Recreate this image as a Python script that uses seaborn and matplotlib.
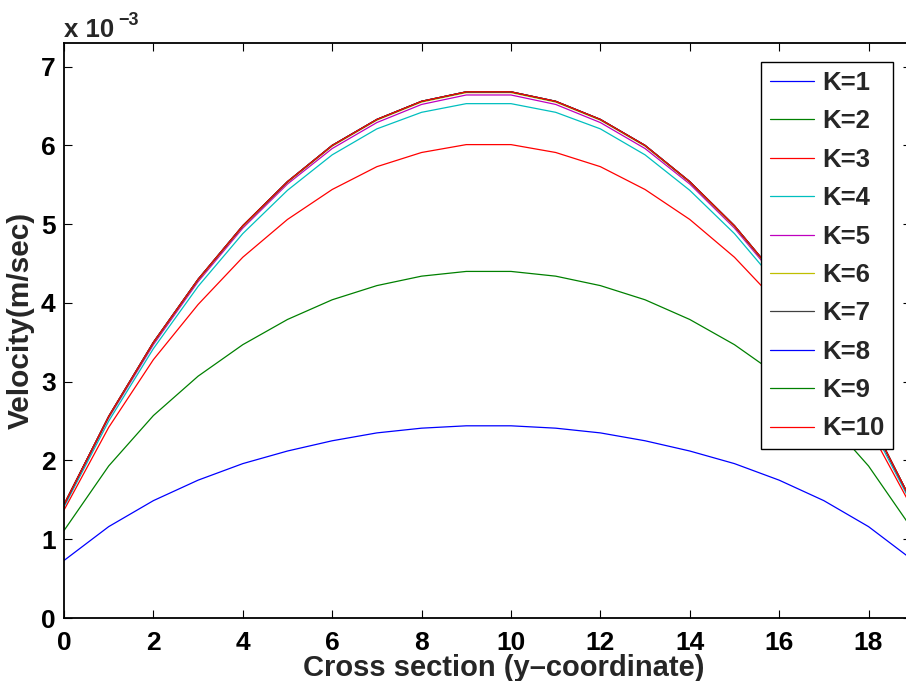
import numpy as np
import pandas as pd
import matplotlib
matplotlib.use('Agg')
import matplotlib.pyplot as plt
import seaborn as sns

# Posiciones en la seccion transversal
y_coord = list(range(20))

# Velocidades (x 10^-3 m/s)
k1 = [0.73, 1.16, 1.49, 1.75, 1.96, 2.12, 2.25, 2.35, 2.41, 2.44,
      2.44, 2.41, 2.35, 2.25, 2.12, 1.96, 1.75, 1.49, 1.16, 0.73]
k2 = [1.11, 1.93, 2.57, 3.07, 3.47, 3.79, 4.04, 4.22, 4.34, 4.40,
      4.40, 4.34, 4.22, 4.04, 3.79, 3.47, 3.07, 2.57, 1.93, 1.11]
k3 = [1.37, 2.42, 3.28, 3.98, 4.58, 5.06, 5.44, 5.73, 5.91, 6.01,
      6.01, 5.91, 5.73, 5.44, 5.06, 4.58, 3.98, 3.28, 2.42, 1.37]
k4 = [1.41, 2.50, 3.42, 4.21, 4.88, 5.43, 5.88, 6.21, 6.42, 6.53,
      6.53, 6.42, 6.21, 5.88, 5.43, 4.88, 4.21, 3.42, 2.50, 1.41]
k5 = [1.43, 2.54, 3.47, 4.27, 4.95, 5.51, 5.96, 6.29, 6.52, 6.64,
      6.64, 6.52, 6.29, 5.96, 5.51, 4.95, 4.27, 3.47, 2.54, 1.43]
k6 = [1.44, 2.55, 3.49, 4.29, 4.97, 5.53, 5.99, 6.32, 6.55, 6.67,
      6.67, 6.55, 6.32, 5.99, 5.53, 4.97, 4.29, 3.49, 2.55, 1.44]
k7 = [1.44, 2.56, 3.50, 4.30, 4.98, 5.54, 6.00, 6.33, 6.56, 6.68,
      6.68, 6.56, 6.33, 6.00, 5.54, 4.98, 4.30, 3.50, 2.56, 1.44]
k8 = [1.44, 2.56, 3.50, 4.30, 4.98, 5.54, 6.00, 6.33, 6.56, 6.68,
      6.68, 6.56, 6.33, 6.00, 5.54, 4.98, 4.30, 3.50, 2.56, 1.44]
k9 = [1.44, 2.56, 3.50, 4.30, 4.98, 5.54, 6.00, 6.33, 6.56, 6.68,
      6.68, 6.56, 6.33, 6.00, 5.54, 4.98, 4.30, 3.50, 2.56, 1.44]
k10 = [1.44, 2.56, 3.50, 4.30, 4.98, 5.54, 6.00, 6.33, 6.56, 6.68,
       6.68, 6.56, 6.33, 6.00, 5.54, 4.98, 4.30, 3.50, 2.56, 1.44]

series = [k1, k2, k3, k4, k5, k6, k7, k8, k9, k10]
nombres = ['K=%d' % (i + 1) for i in range(10)]

# Colores tipo MATLAB
colores = [(0, 0, 1), (0, 0.5, 0), (1, 0, 0), (0, 0.75, 0.75), (0.75, 0, 0.75),
           (0.75, 0.75, 0), (0.25, 0.25, 0.25), (0, 0, 1), (0, 0.5, 0), (1, 0, 0)]

# Armo el dataframe largo
filas = []
for nombre, valores in zip(nombres, series):
    for x, v in zip(y_coord, valores):
        filas.append({'y': x, 'vel': v, 'K': nombre})
datos = pd.DataFrame(filas)

sns.set_style('ticks')
plt.rcParams['font.family'] = ['Liberation Sans', 'DejaVu Sans']
plt.rcParams['font.weight'] = 'bold'

fig = plt.figure(figsize=(9.06, 6.81), dpi=100)
ax = fig.add_axes([64 / 906, 63 / 681, 847 / 906, 575 / 681])

sns.lineplot(data=datos, x='y', y='vel', hue='K', palette=colores,
             hue_order=nombres, linewidth=0.9, ax=ax, legend=True)

ax.set_xlim(0, 18.95)
ax.set_ylim(0, 7.3)
ax.set_xticks(range(0, 19, 2))
ax.set_yticks(range(0, 8))

for s in ax.spines.values():
    s.set_visible(True)
    s.set_linewidth(1.3)
    s.set_color('black')

ax.tick_params(direction='in', length=6, width=0.8, top=True, right=True,
               labelsize=19, colors='black')
ax.tick_params(axis='x', pad=9)
ax.tick_params(axis='y', pad=6)
for t in ax.get_xticklabels() + ax.get_yticklabels():
    t.set_fontweight('bold')

ax.set_xlabel('Cross section (y\u2013coordinate)', fontsize=21, fontweight='bold')
ax.set_ylabel('Velocity(m/sec)', fontsize=21.5, fontweight='bold')
ax.xaxis.set_label_coords((504 - 64) / 847, -(654 - 618) / 575)
ax.yaxis.set_label_coords(-(64 - 35) / 847, (618 - 320) / 575)

# Exponente estilo MATLAB
fig.text(64 / 906, 1 - 37 / 681, 'x 10', fontsize=18.5, fontweight='bold', va='baseline')
fig.text(118 / 906, 1 - 25 / 681, '\u22123', fontsize=13, fontweight='bold', va='baseline')

# Leyenda
leg = ax.legend(loc='upper right', bbox_to_anchor=((893 - 64) / 847, (618 - 62) / 575),
                borderaxespad=0, fancybox=False, framealpha=1, edgecolor='black',
                handlelength=1.7, handletextpad=0.3, labelspacing=0.56,
                borderpad=0.35, prop={'size': 18.5, 'weight': 'bold'})
leg.get_frame().set_linewidth(1.0)

fig.savefig('out.png', dpi=100)
